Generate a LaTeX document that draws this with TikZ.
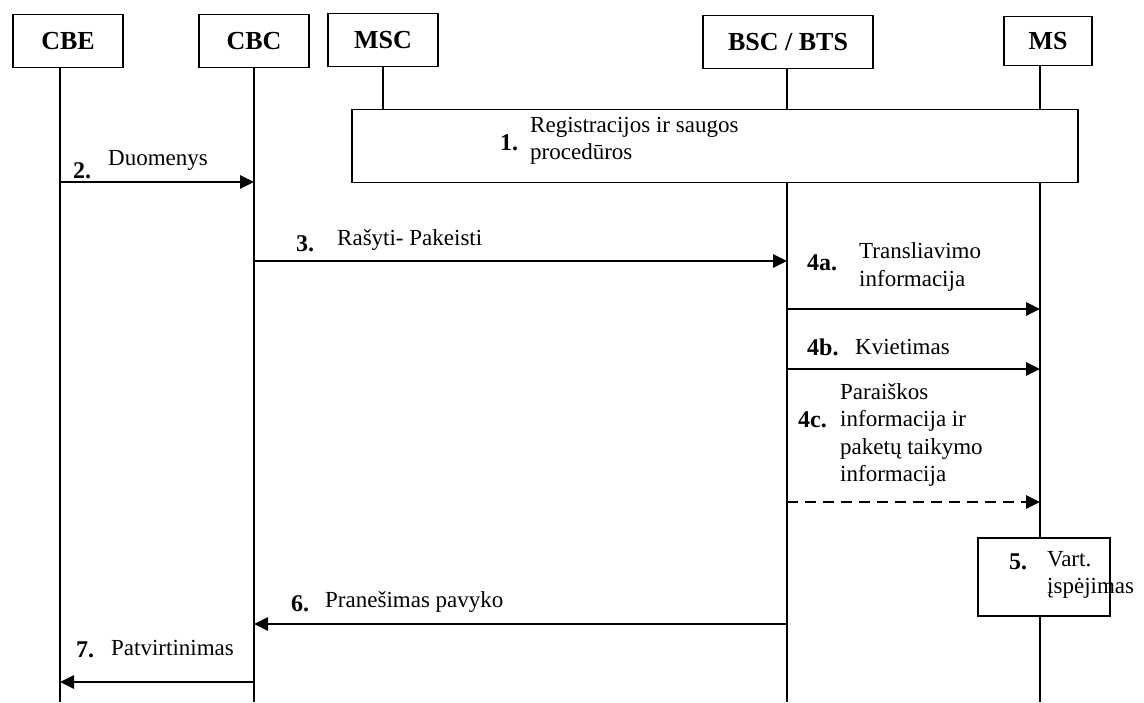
\documentclass[tikz,border=0pt]{standalone}
\usepackage{fontspec}
\setmainfont{Liberation Serif}
\usetikzlibrary{arrows.meta}
\tikzset{
  x=1pt, y=-1pt,
  head/.style={draw, line width=1.9pt, minimum height=53pt, inner sep=0pt,
    font=\fontsize{26}{30}\selectfont\bfseries},
  life/.style={line width=1.9pt},
  msg/.style={line width=2.6pt, -{Triangle[length=14pt,width=13pt]}},
  num/.style={anchor=west, inner sep=0pt, font=\fontsize{24}{27}\selectfont\bfseries},
  lbl/.style={anchor=west, inner sep=0pt, align=left, font=\fontsize{23}{27.5}\selectfont},
  procbox/.style={draw, line width=1.9pt, inner sep=0pt}
}
\begin{document}
\begin{tikzpicture}
\useasboundingbox (0,0) rectangle (1144,702);

% participants
\node[head, minimum width=110pt] (cbe) at (68,41) {CBE};
\node[head, minimum width=110pt] (cbc) at (254,41) {CBC};
\node[head, minimum width=110pt] (msc) at (383,40) {MSC};
\node[head, minimum width=170pt] (bsc) at (788,42) {BSC / BTS};
\node[head, minimum width=88pt, minimum height=49pt] (ms) at (1048,41) {MS};

% lifeline anchors
\coordinate (cbeT) at (60,68);   \coordinate (cbeB) at (60,702);
\coordinate (cbcT) at (254,68);  \coordinate (cbcB) at (254,702);
\coordinate (mscT) at (383,67);
\coordinate (bscT) at (787,68);  \coordinate (bscB) at (787,702);
\coordinate (msT) at (1040,65);  \coordinate (msB) at (1040,702);

% procedure boxes
\node[procbox, minimum width=726pt, minimum height=73pt] (reg) at (715,146) {};
\node[procbox, minimum width=132pt, minimum height=78pt] (warn) at (1044,577) {};

% lifelines
\draw[life] (cbeT) -- (cbeB);
\draw[life] (cbcT) -- (cbcB);
\draw[life] (mscT) -- (mscT |- reg.north);
\draw[life] (bscT) -- (bscT |- reg.north);
\draw[life] (bscT |- reg.south) -- (bscB);
\draw[life] (msT) -- (msT |- reg.north);
\draw[life] (msT |- reg.south) -- (msT |- warn.north);
\draw[life] (msT |- warn.south) -- (msB);

% texts inside the boxes
\node[num] (n1) at (500,143) {1.};
\node[lbl] (t1) at (530,141) {Registracijos ir saugos\\procedūros};
\node[num] (n5) at (1009,562) {5.};
\node[lbl] (t5) at (1047,575) {Vart.\\įspėjimas};

% messages
\coordinate (m2a) at (60,182);   \coordinate (m2b) at (254,182);
\coordinate (m3a) at (254,261);  \coordinate (m3b) at (787,261);
\coordinate (m4aa) at (787,309); \coordinate (m4ab) at (1040,309);
\coordinate (m4ba) at (787,369); \coordinate (m4bb) at (1040,369);
\coordinate (m4ca) at (787,502); \coordinate (m4cb) at (1040,502);
\coordinate (m6a) at (787,624);  \coordinate (m6b) at (254,624);
\coordinate (m7a) at (254,682);  \coordinate (m7b) at (60,682);

\draw[msg] (m2a) -- (m2b);
\draw[msg] (m3a) -- (m3b);
\draw[msg] (m4aa) -- (m4ab);
\draw[msg] (m4ba) -- (m4bb);
\draw[msg, dash pattern=on 11pt off 7pt] (m4ca) -- (m4cb);
\draw[msg] (m6a) -- (m6b);
\draw[msg] (m7a) -- (m7b);

% message labels
\node[num] (n2) at (73,171) {2.};
\node[lbl] (t2) at (108,160) {Duomenys};
\node[num] (n3) at (296,244) {3.};
\node[lbl] (t3) at (337,240) {Rašyti- Pakeisti};
\node[num] (n4a) at (807,263) {4a.};
\node[lbl] (t4a) at (859,267) {Transliavimo\\informacija};
\node[num] (n4b) at (807,347) {4b.};
\node[lbl] (t4b) at (855,347) {Kvietimas};
\node[num] (n4c) at (798,420) {4c.};
\node[lbl] (t4c) at (840,435) {Paraiškos\\informacija ir\\paketų taikymo\\informacija};
\node[num] (n6) at (291,604) {6.};
\node[lbl] (t6) at (325,602) {Pranešimas pavyko};
\node[num] (n7) at (76,650) {7.};
\node[lbl] (t7) at (111,648) {Patvirtinimas};
\end{tikzpicture}
\end{document}
